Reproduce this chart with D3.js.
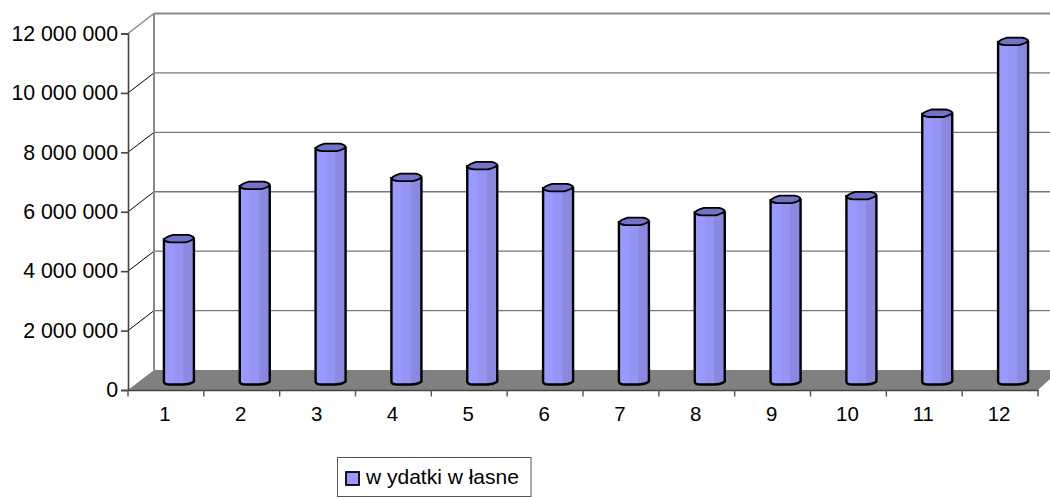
<!DOCTYPE html>
<html><head><meta charset="utf-8"><script src="https://cdn.jsdelivr.net/npm/d3@7"></script>
<style>html,body{margin:0;padding:0;background:#fff}svg{display:block}text{font-family:"Liberation Sans",Arial,sans-serif;fill:#000}</style>
</head><body><svg id="c" width="1050" height="498"></svg>
<script>
const categories=["1","2","3","4","5","6","7","8","9","10","11","12"];
const values=[4750000,6540000,7820000,6810000,7210000,6470000,5330000,5660000,6070000,6200000,8970000,11390000];
const yTicks=[0,2000000,4000000,6000000,8000000,10000000,12000000];
const seriesName="w ydatki w łasne";
const svg=d3.select("#c");
const x=d3.scaleBand().domain(categories).range([128,1038]).padding(0);
const y=d3.scaleLinear().domain([0,12000000]).range([390,33.5]);
const dx=26,dy=-20;
const grad=svg.append("defs").append("linearGradient").attr("id","cyl");
[[0,"#9999ff"],[.33,"#9999ff"],[.36,"#9494f3"],[.63,"#9494f3"],[.66,"#8a8ae2"],[1,"#8888dc"]].forEach(s=>grad.append("stop").attr("offset",s[0]).attr("stop-color",s[1]));
// floor
svg.append("path").attr("fill","#808080").attr("d",`M${x.range()[0]},${y(0)}L${x.range()[0]+dx},${y(0)+dy}H1050V${y(0)+dy+9}L${x.range()[1]},${y(0)}Z`);
// back wall and gridlines
yTicks.slice(1).forEach(t=>{
  const strong=t===12000000;
  svg.append("line").attr("x1",x.range()[0]+dx).attr("x2",1050).attr("y1",y(t)+dy).attr("y2",y(t)+dy).attr("stroke",strong?"#888":"#777").attr("stroke-width",strong?2:1.4);
  svg.append("line").attr("x1",x.range()[0]).attr("x2",x.range()[0]+dx).attr("y1",y(t)).attr("y2",y(t)+dy).attr("stroke",strong?"#888":"#000").attr("stroke-width",strong?1.5:1);
});
svg.append("line").attr("x1",154).attr("x2",154).attr("y1",y(12000000)+dy).attr("y2",y(0)+dy).attr("stroke","#888").attr("stroke-width",2);
// axes
const yAxis=d3.axisLeft(y).tickValues(yTicks).tickSize(7).tickPadding(3).tickFormat(d=>d3.format(",")(d).replace(/,/g," "));
const ga=svg.append("g").attr("transform","translate(128,0)").call(yAxis);
ga.selectAll("text").attr("font-size",21.3).attr("font-family","Liberation Sans");
ga.selectAll("line,path").attr("stroke","#444").attr("stroke-width",1.6);
const xAxis=d3.axisBottom(x).tickSizeOuter(0).tickSize(0).tickPadding(16.5);
const gx=svg.append("g").attr("transform",`translate(0,${y(0)})`).call(xAxis);
gx.select("path").attr("stroke","#444").attr("stroke-width",1.6);
gx.selectAll("text").attr("font-size",20.4).attr("font-family","Liberation Sans").attr("dx",-1);
svg.append("g").selectAll("line").data(categories.concat(["end"])).join("line")
 .attr("x1",(d,i)=>x.range()[0]+i*x.step()).attr("x2",(d,i)=>x.range()[0]+i*x.step())
 .attr("y1",y(0)).attr("y2",y(0)+6.5).attr("stroke","#555").attr("stroke-width",1.4);
// bars
const bw=30;
const g=svg.append("g").selectAll("g").data(categories).join("g");
g.each(function(c,i){
  const s=d3.select(this);
  const cx=x(c)+x.bandwidth()/2+13, L=cx-bw/2,R=cx+bw/2;
  const top=y(values[i])-9.5, base=y(0)-9.5;
  s.append("path").attr("fill","url(#cyl)").attr("stroke","#000").attr("stroke-width",2.4)
   .attr("d",`M${L},${top}V${base+1}Q${L},${base+4} ${L+6},${base+4}H${R-11}Q${R-4},${base+4} ${R},${base+1}V${top}Z`);
  s.append("path").attr("fill","#7272c6").attr("stroke","#000").attr("stroke-width",1.8)
   .attr("d",`M${L},${top}Q${L+3},${top-3} ${L+9},${top-4.5}H${R-6}Q${R-1},${top-3.5} ${R},${top-1.5}Q${R-2},${top+1.5} ${R-9},${top+3}H${L+7}Q${L+1},${top+2.5} ${L},${top}Z`);
});
// legend
svg.append("rect").attr("x",337.5).attr("y",457.5).attr("width",193.5).attr("height",39).attr("fill","#fff").attr("stroke","#555").attr("stroke-width",1);
svg.append("rect").attr("x",346).attr("y",472).attr("width",13).attr("height",13).attr("fill","#9999ff").attr("stroke","#000").attr("stroke-width",1.8);
svg.append("text").attr("x",366).attr("y",484).attr("font-size",21).text(seriesName);
</script></body></html>
